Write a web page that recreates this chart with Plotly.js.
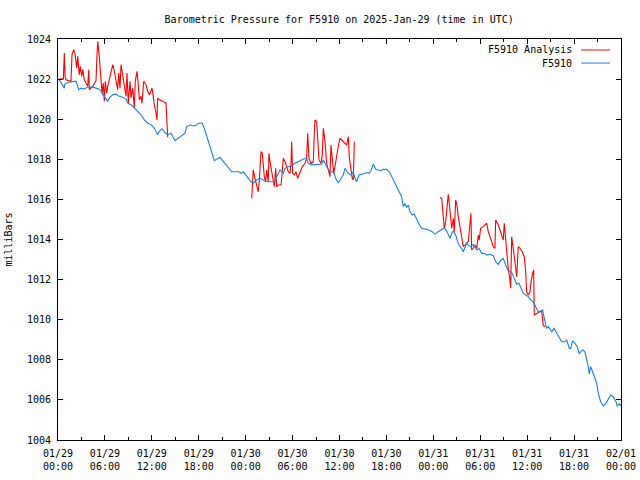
<!DOCTYPE html>
<html>
<head>
<meta charset="utf-8">
<script src="https://cdn.plot.ly/plotly-3.0.1.min.js"></script>
<style>html,body{margin:0;padding:0;background:#fff}#chart{width:640px;height:480px}</style>
</head>
<body>
<div id="chart"></div>
<script>
// Hours since 2025-01-29 00:00 UTC
var stationHours = [0.09,0.81,0.87,1.41,2.30,2.65,2.94,3.32,3.80,4.44,4.86,5.28,5.50,5.72,6.05,6.36,6.65,7.00,7.42,7.84,8.27,8.70,8.91,9.34,9.76,10.19,10.61,11.04,11.47,11.89,12.31,12.75,12.95,13.30,13.72,14.03,14.45,14.96,15.38,15.82,16.24,16.46,16.88,17.30,17.74,17.94,18.45,18.71,19.02,19.22,19.44,19.65,19.99,20.29,20.72,21.01,21.36,21.78,22.21,22.63,23.15,23.40,23.70,23.91,24.34,24.68,24.97,25.41,25.83,26.25,26.69,27.33,27.75,27.97,28.39,28.81,29.03,29.45,29.88,30.31,30.73,31.16,31.59,31.80,32.01,32.44,32.86,33.29,33.72,33.93,34.14,34.49,34.78,35.08,35.33,35.51,35.84,36.19,36.48,36.70,37.12,37.47,37.76,37.98,38.20,38.49,39.04,39.48,39.77,40.03,40.32,40.63,40.96,41.30,41.60,42.03,42.46,42.67,43.00,43.31,43.61,43.95,44.16,44.37,44.59,44.80,45.01,45.31,45.56,45.87,46.16,46.51,46.93,47.44,47.86,48.21,48.63,49.07,49.40,49.71,49.91,50.13,50.35,50.55,50.86,51.11,51.41,51.62,51.83,52.05,52.26,52.47,52.81,53.11,53.32,53.54,53.84,54.18,54.51,54.82,55.24,55.67,55.97,56.31,56.65,56.94,57.25,57.58,58.02,58.35,58.66,58.95,59.21,59.50,59.81,60.14,60.49,60.78,61.09,61.42,61.76,61.98,62.05,62.28,62.49,62.70,62.92,63.13,63.43,63.68,63.98,64.28,64.41,64.83,65.05,65.26,65.38,65.56,65.82,66.11,66.41,66.66,66.84,67.10,67.39,67.52,67.69,67.81,67.94,68.12,68.25,68.46,68.67,68.89,69.10,69.40,69.73,70.08,70.37,70.68,71.01,71.36,71.52,71.78,72.00];
var stationPressure = [1022.0,1021.55,1021.75,1021.84,1021.9,1021.47,1021.55,1021.5,1021.6,1021.6,1021.55,1021.5,1021.4,1021.22,1021.06,1020.9,1021.1,1021.22,1021.25,1021.14,1021.1,1021.0,1020.8,1020.72,1020.56,1020.4,1020.22,1019.97,1019.8,1019.73,1019.56,1019.23,1019.4,1019.53,1019.31,1019.23,1019.3,1018.93,1019.05,1019.2,1019.3,1019.63,1019.71,1019.66,1019.71,1019.8,1019.8,1019.55,1019.13,1018.88,1018.55,1018.3,1017.93,1018.0,1018.1,1017.96,1017.8,1017.55,1017.38,1017.38,1017.38,1017.3,1017.38,1017.27,1017.05,1016.88,1016.8,1016.97,1017.05,1016.97,1016.88,1016.88,1016.88,1017.13,1017.47,1017.3,1017.55,1017.63,1017.67,1017.8,1017.88,1017.97,1018.05,1018.05,1017.8,1017.72,1017.72,1017.72,1017.75,1017.97,1017.8,1017.55,1017.38,1017.38,1017.3,1017.05,1016.83,1017.05,1017.22,1017.55,1017.3,1017.22,1017.38,1017.05,1016.88,1017.22,1017.3,1017.33,1017.3,1017.43,1017.77,1017.5,1017.47,1017.43,1017.5,1017.5,1017.33,1017.13,1016.88,1016.63,1016.38,1016.13,1015.64,1015.8,1015.6,1015.72,1015.39,1015.22,1015.27,1015.0,1014.77,1014.56,1014.52,1014.47,1014.39,1014.27,1014.39,1014.5,1014.59,1014.42,1014.22,1014.06,1014.31,1014.42,1014.22,1013.89,1013.64,1013.56,1013.39,1013.64,1013.81,1013.72,1013.64,1013.76,1013.64,1013.48,1013.56,1013.31,1013.31,1013.22,1013.26,1013.19,1012.89,1012.76,1012.98,1013.06,1012.73,1012.43,1012.36,1012.06,1011.77,1011.82,1011.57,1011.32,1011.23,1011.15,1010.98,1010.9,1010.65,1010.39,1010.43,1010.5,1010.3,1009.9,1009.57,1009.65,1009.52,1009.4,1009.57,1009.4,1009.19,1008.99,1008.9,1008.9,1008.99,1008.74,1008.57,1008.57,1008.95,1008.82,1008.65,1008.32,1008.4,1008.49,1008.4,1008.15,1007.99,1007.66,1007.29,1007.66,1007.53,1007.24,1007.08,1006.83,1006.33,1005.91,1005.7,1005.83,1006.0,1006.24,1006.16,1005.91,1005.7,1005.8,1005.7];

// Analysis series (null separates the three analysis windows)
var analysisHours = [0.17,0.68,0.81,0.90,1.02,1.66,1.79,2.01,2.17,2.39,2.52,2.72,2.85,3.03,3.16,3.36,3.58,3.80,3.93,4.00,4.44,4.86,4.99,5.08,5.28,5.50,5.63,5.79,5.92,6.05,6.23,6.36,6.56,6.78,7.00,7.20,7.42,7.63,7.76,7.93,8.06,8.27,8.48,8.70,8.82,8.99,9.21,9.34,9.55,9.76,9.88,10.10,10.27,10.40,10.61,10.74,10.96,11.25,11.47,11.68,11.89,12.02,12.19,12.31,12.53,12.66,12.75,12.95,13.39,13.81,13.94,14.03,
  null,
  24.77,24.85,24.97,25.19,25.41,25.61,25.74,25.96,26.13,26.25,26.38,26.56,26.69,26.89,26.98,27.11,27.33,27.53,27.66,27.84,27.97,28.17,28.52,28.68,28.81,29.03,29.25,29.45,29.67,29.80,29.88,30.01,30.22,30.43,30.65,30.95,31.24,31.59,31.80,31.93,32.10,32.35,32.65,32.77,32.86,33.08,33.21,33.38,33.63,33.80,33.93,34.14,34.36,34.57,34.78,34.91,35.08,35.26,35.42,35.64,35.84,36.06,36.48,36.92,37.12,37.25,37.47,37.63,37.76,37.90,
  null,
  48.85,49.07,49.27,49.40,49.58,49.74,49.91,50.04,50.17,50.35,50.55,50.68,50.86,51.02,51.19,51.41,51.62,51.75,51.83,52.05,52.47,52.81,52.90,53.11,53.32,53.54,53.75,53.87,54.05,54.39,54.82,55.03,55.24,55.46,55.67,55.88,55.97,56.31,56.52,56.74,56.94,57.07,57.25,57.38,57.58,57.80,57.89,58.02,58.22,58.44,58.66,58.86,59.08,59.37,59.63,59.81,59.93,60.14,60.36,60.49,60.70,60.83,60.91,61.21,61.64,61.85,61.93,62.05,62.28];
var analysisPressure = [1022.02,1022.0,1023.3,1022.14,1021.97,1021.89,1023.22,1023.47,1023.3,1022.55,1023.14,1022.22,1022.64,1022.14,1022.47,1021.97,1021.8,1021.64,1022.47,1021.47,1021.64,1021.92,1023.22,1023.88,1023.14,1022.05,1021.3,1021.8,1020.9,1021.89,1021.3,1021.64,1021.97,1022.39,1022.72,1022.39,1021.97,1021.47,1022.3,1021.55,1022.72,1022.22,1021.89,1021.14,1022.3,1020.8,1021.89,1021.06,1021.55,1020.56,1021.89,1022.39,1021.72,1020.97,1021.14,1020.8,1021.89,1021.72,1021.39,1021.22,1021.39,1021.55,1021.14,1020.72,1020.31,1019.97,1021.06,1020.97,1020.9,1020.8,1019.8,1019.1,
  null,
  1016.05,1017.05,1017.47,1017.05,1016.63,1016.38,1016.88,1018.38,1018.3,1017.8,1017.13,1016.88,1017.47,1016.88,1018.3,1017.88,1017.38,1016.97,1016.63,1017.55,1016.63,1016.72,1016.72,1017.38,1018.05,1017.88,1017.63,1017.38,1017.3,1017.8,1018.88,1017.3,1017.22,1017.38,1017.05,1017.38,1017.63,1017.8,1018.05,1019.3,1018.05,1017.8,1017.88,1019.21,1019.96,1019.88,1018.96,1017.97,1017.8,1018.21,1019.55,1018.88,1017.8,1017.38,1017.13,1018.71,1017.8,1017.3,1017.63,1018.21,1018.63,1019.05,1018.88,1018.71,1019.13,1018.13,1017.47,1017.05,1016.97,1018.88,
  null,
  1016.09,1016.05,1015.14,1014.56,1014.89,1015.72,1016.25,1015.8,1015.14,1014.56,1015.06,1014.39,1015.97,1015.72,1015.14,1014.56,1014.22,1013.89,1013.64,1013.72,1013.89,1015.31,1013.48,1013.56,1013.72,1013.56,1014.22,1013.97,1014.56,1014.64,1014.81,1014.39,1014.14,1013.89,1013.64,1013.56,1014.97,1014.72,1014.47,1014.22,1013.97,1014.81,1013.89,1013.14,1012.56,1011.98,1011.57,1014.14,1013.64,1012.89,1012.14,1013.64,1013.56,1013.39,1013.14,1012.39,1011.39,1011.23,1011.39,1011.89,1012.31,1012.48,1010.24,1010.32,1010.4,1010.43,1010.15,1009.73,1009.65];

var tickHours = [0,6,12,18,24,30,36,42,48,54,60,66,72];
var tickLabels = ['01/29<br>00:00','01/29<br>06:00','01/29<br>12:00','01/29<br>18:00','01/30<br>00:00','01/30<br>06:00','01/30<br>12:00','01/30<br>18:00','01/31<br>00:00','01/31<br>06:00','01/31<br>12:00','01/31<br>18:00','02/01<br>00:00'];

var T0 = Date.UTC(2025, 0, 29, 0, 0, 0);
function toDate(h) {
  if (h === null) return null;
  var d = new Date(T0 + h * 3600000);
  return d.toISOString().replace('T', ' ').replace('Z', '');
}

var FONT = 'DejaVu Sans Mono, monospace';
var RED = '#ff0000';
var BLUE = '#1a80e6';

var traces = [
  {x: analysisHours.map(toDate), y: analysisPressure, type: 'scatter', mode: 'lines',
   name: 'F5910 Analysis', line: {color: RED, width: 1.1}, connectgaps: false},
  {x: stationHours.map(toDate), y: stationPressure, type: 'scatter', mode: 'lines',
   name: 'F5910', line: {color: BLUE, width: 1.1}}
];

var axisCommon = {
  showgrid: false, zeroline: false, showline: true, linecolor: '#000', linewidth: 1,
  mirror: 'allticks', ticks: 'inside', ticklen: 5, tickcolor: '#000', tickwidth: 1,
  tickfont: {family: FONT, size: 10, color: '#000'}
};

var layout = {
  width: 640, height: 480,
  margin: {l: 58, r: 19, t: 39, b: 40},
  paper_bgcolor: '#fff', plot_bgcolor: '#fff',
  showlegend: false,
  font: {family: FONT, size: 10, color: '#000'},
  title: {text: 'Barometric Pressure for F5910 on 2025-Jan-29 (time in UTC)',
          font: {family: FONT, size: 10, color: '#000'}, x: 0.53, xanchor: 'center', y: 0.96, yanchor: 'middle'},
  xaxis: Object.assign({}, axisCommon, {
    type: 'date',
    range: [toDate(0), toDate(72)],
    tickmode: 'array', tickvals: tickHours.map(toDate), ticktext: tickLabels,
    minor: {dtick: 3 * 3600000, tick0: toDate(0), ticks: 'inside', ticklen: 3, tickcolor: '#000', showgrid: false},
    ticklabelstandoff: 4
  }),
  yaxis: Object.assign({}, axisCommon, {
    range: [1004, 1024], dtick: 2, tick0: 1004,
    ticklabelstandoff: 4,
    title: {text: 'milliBars', font: {family: FONT, size: 10, color: '#000'}, standoff: 12}
  }),
  annotations: [
    {xref: 'paper', yref: 'paper', x: 0.9165, y: 0.9726, xanchor: 'right', yanchor: 'middle',
     text: 'F5910 Analysis', showarrow: false, font: {family: FONT, size: 10, color: '#000'}},
    {xref: 'paper', yref: 'paper', x: 0.9165, y: 0.940, xanchor: 'right', yanchor: 'middle',
     text: 'F5910', showarrow: false, font: {family: FONT, size: 10, color: '#000'}}
  ],
  shapes: [
    {type: 'line', xref: 'paper', yref: 'paper', x0: 0.929, x1: 0.9805, y0: 0.9726, y1: 0.9726, line: {color: RED, width: 1}},
    {type: 'line', xref: 'paper', yref: 'paper', x0: 0.929, x1: 0.9805, y0: 0.940, y1: 0.940, line: {color: BLUE, width: 1}}
  ]
};

Plotly.newPlot('chart', traces, layout, {displayModeBar: false, staticPlot: true});
</script>
</body>
</html>
